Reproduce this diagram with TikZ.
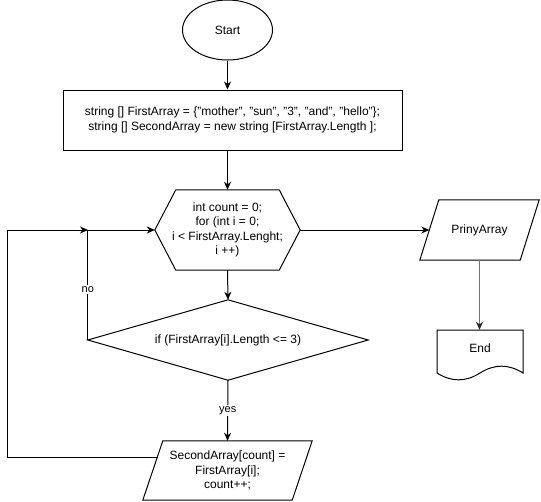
\documentclass[tikz,border=0pt]{standalone}
\usepackage{fontspec}
\setmainfont{Liberation Sans}
\usetikzlibrary{arrows.meta,shapes.geometric}
\begin{document}
\begin{tikzpicture}[x=1pt,y=-1pt,
  every node/.style={font=\fontsize{12}{14.5}\selectfont, inner sep=0pt, align=center},
  outline/.style={draw=black, line width=1pt, line join=miter},
  flow/.style={draw=black, line width=1pt, -{Stealth[length=8pt,width=7pt,inset=2.5pt]}},
  greyflow/.style={draw=black!55, line width=1.3pt, -{Stealth[length=8pt,width=7pt,inset=2.5pt,color=black!85]}},
  tag/.style={font=\fontsize{11}{13}\selectfont, fill=white, inner sep=1.5pt}]
\useasboundingbox (0,0) rectangle (541,501);
\fill[white] (0,0) rectangle (541,501);

% terminal
\node[ellipse, outline, minimum width=90pt, minimum height=60pt] (start) at (227.5,30) {Start};

% initialisation block
\node[rectangle, outline, minimum width=339pt, minimum height=60pt] (init) at (232.5,120)
  {string [] FirstArray = \{"mother", "sun", "3", "and", "hello"\};\\
   string [] SecondArray = new string [FirstArray.Length ];};

% loop header (hexagon)
\node[rectangle, minimum width=145pt, minimum height=80pt] (hex) at (227.5,230)
  {int count = 0;\\ for (int i = 0;\\ i < FirstArray.Lenght;\\ i ++)};
\draw[outline] (hex.west) -- ([xshift=21pt]hex.north west) -- ([xshift=-21pt]hex.north east)
  -- (hex.east) -- ([xshift=-21pt]hex.south east) -- ([xshift=21pt]hex.south west) -- cycle;

% condition (diamond)
\node[rectangle, minimum width=280pt, minimum height=80pt] (dia) at (228,340)
  {if (FirstArray[i].Length <= 3)};
\draw[outline] (dia.north) -- (dia.east) -- (dia.south) -- (dia.west) -- cycle;

% assignment (parallelogram)
\node[rectangle, minimum width=169pt, minimum height=59pt] (sec) at (227.5,470.5)
  {SecondArray[count] =\\ FirstArray[i];\\ count++;};
\draw[outline] ([xshift=20pt]sec.north west) -- (sec.north east)
  -- ([xshift=-20pt]sec.south east) -- (sec.south west) -- cycle;

% output (parallelogram)
\node[rectangle, minimum width=119pt, minimum height=60pt] (pri) at (479.5,230) {PrinyArray};
\draw[outline] ([xshift=19pt]pri.north west) -- (pri.north east)
  -- ([xshift=-19pt]pri.south east) -- (pri.south west) -- cycle;

% end (document shape)
\node[rectangle, minimum width=86pt, minimum height=36pt] (endn) at (480,348) {End};
\draw[outline] (437,330) -- (523,330) -- (523,373)
  .. controls (508.7,363.9) and (494.3,363.9) .. (480,373)
  .. controls (465.7,382.1) and (451.3,382.1) .. (437,373) -- cycle;

% connection points
\coordinate (secL) at (157.6,457);
\coordinate (nojoin) at (88,230);

% connectors
\draw[flow] (start.south) -- (start.south |- init.north);
\draw[flow] (init.south -| hex.north) -- (hex.north);
\draw[flow] (hex.south) -- (dia.north);
\draw[flow] (dia.south) -- node[tag] {yes} (sec.north);
\draw[flow] (dia.west) |- node[tag, pos=0.23] {no} (hex.west);
\draw[flow] (secL) -- ++(-150,0) |- (nojoin);
\draw[flow] (hex.east) -- ([xshift=9.5pt]pri.west);
\draw[greyflow] (pri.south) -- (pri.south |- endn.north);
\end{tikzpicture}
\end{document}
